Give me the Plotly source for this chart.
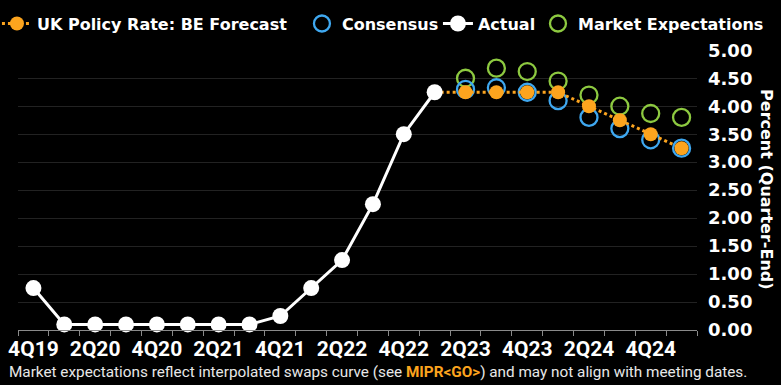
import plotly.graph_objects as go

quarters = ["4Q19", "1Q20", "2Q20", "3Q20", "4Q20", "1Q21", "2Q21", "3Q21",
            "4Q21", "1Q22", "2Q22", "3Q22", "4Q22", "1Q23", "2Q23", "3Q23",
            "4Q23", "1Q24", "2Q24", "3Q24", "4Q24", "1Q25"]
actual_q = quarters[0:14]
actual_vals = [0.75, 0.10, 0.10, 0.10, 0.10, 0.10, 0.10, 0.10, 0.25, 0.75,
               1.25, 2.25, 3.50, 4.25]
forecast_q = quarters[13:22]
forecast_vals = [4.25, 4.25, 4.25, 4.25, 4.25, 4.00, 3.75, 3.50, 3.25]
consensus_q = quarters[14:22]
consensus_vals = [4.30, 4.33, 4.25, 4.10, 3.80, 3.60, 3.40, 3.25]
market_q = quarters[14:22]
market_vals = [4.50, 4.68, 4.62, 4.45, 4.20, 4.00, 3.87, 3.80]
y_ticks = [0.0, 0.5, 1.0, 1.5, 2.0, 2.5, 3.0, 3.5, 4.0, 4.5, 5.0]
x_label_step = 2

idx = {q: i for i, q in enumerate(quarters)}
def xs(qs):
    return [idx[q] for q in qs]

ORANGE = "#FCA41E"
BLUE = "#3FA8F0"
GREEN = "#8DC940"
WHITE = "#FFFFFF"
BOLD = "DejaVu Sans"
NARROW = "Roboto, sans-serif"
LEGEND_FONT = dict(family=BOLD, size=16, color=WHITE, weight="bold")

fig = go.Figure()
fig.add_trace(go.Scatter(
    x=xs(market_q), y=market_vals, mode="markers", name="Market Expectations",
    legend="legend2",
    marker=dict(size=17, color="rgba(0,0,0,0)", line=dict(color=GREEN, width=2.3)),
    cliponaxis=False))
fig.add_trace(go.Scatter(
    x=xs(consensus_q), y=consensus_vals, mode="markers", name="Consensus",
    legendrank=2, legendwidth=91,
    marker=dict(size=17, color="rgba(0,0,0,0)", line=dict(color=BLUE, width=2.3)),
    cliponaxis=False))
fig.add_trace(go.Scatter(
    x=xs(forecast_q), y=forecast_vals, mode="lines+markers",
    name="UK Policy Rate: BE Forecast", legendrank=1, legendwidth=260,
    line=dict(color=ORANGE, width=3, dash="dot"),
    marker=dict(size=14, color=ORANGE),
    cliponaxis=False))
fig.add_trace(go.Scatter(
    x=xs(actual_q), y=actual_vals, mode="lines+markers", name="Actual",
    legendrank=3, legendwidth=62,
    line=dict(color=WHITE, width=3),
    marker=dict(size=16, color=WHITE),
    cliponaxis=False))

tickvals = list(range(0, len(quarters), x_label_step))
ticktext = [quarters[i] for i in tickvals]
boundaries = [i - 0.5 for i in range(len(quarters) + 1)]

fig.update_layout(
    width=781, height=385,
    paper_bgcolor="#000000", plot_bgcolor="#000000",
    margin=dict(l=18, r=84, t=50, b=55, autoexpand=False),
    showlegend=True,
    legend=dict(orientation="h", x=-0.031, xanchor="left", xref="paper",
                y=1.155, yanchor="top", yref="paper",
                font=LEGEND_FONT, bgcolor="rgba(0,0,0,0)", itemwidth=30,
                traceorder="normal"),
    legend2=dict(orientation="h", x=0.7658, xanchor="left", xref="paper",
                 y=1.155, yanchor="top", yref="paper",
                 font=LEGEND_FONT, bgcolor="rgba(0,0,0,0)", itemwidth=30),
    xaxis=dict(range=[-0.5, len(quarters) - 0.5], tickmode="array",
               tickvals=tickvals, ticktext=ticktext, ticks="", showgrid=False,
               zeroline=False, showline=True, linecolor="#8a8a8a", linewidth=1,
               tickfont=dict(family=NARROW, size=21, color=WHITE, weight="bold"),
               minor=dict(tickmode="array", tickvals=boundaries, ticks="outside",
                          ticklen=5, tickcolor="#8a8a8a", tickwidth=1, showgrid=False),
               fixedrange=True),
    yaxis=dict(range=[0, 5.005], side="right", tickmode="array", tickvals=y_ticks,
               ticktext=[f"{v:.2f}" for v in y_ticks], ticks="",
               ticklabelstandoff=10,
               showgrid=True, gridcolor="#222222", gridwidth=1, zeroline=False,
               tickfont=dict(family=BOLD, size=18, color=WHITE, weight="bold"),
               fixedrange=True),
    annotations=[
        dict(text="Percent (Quarter-End)", textangle=90, xref="paper", yref="paper",
             x=1.103, y=0.5, xanchor="center", yanchor="middle", showarrow=False,
             font=dict(family=BOLD, size=16, color=WHITE, weight="bold")),
        dict(text="Market expectations reflect interpolated swaps curve (see "
                  "<b><span style='color:#FCA41E'>MIPR&lt;GO&gt;</span></b>) "
                  "and may not align with meeting dates.",
             xref="paper", yref="paper", x=-0.0162, y=-0.189, xanchor="left",
             yanchor="bottom", showarrow=False,
             font=dict(family=NARROW, size=15.3, color="#E8E8E8")),
    ],
)

fig.write_html("out.html",
               config={"displayModeBar": False},
               post_script="document.body.style.margin='0';"
                           "document.body.style.background='#000';")
